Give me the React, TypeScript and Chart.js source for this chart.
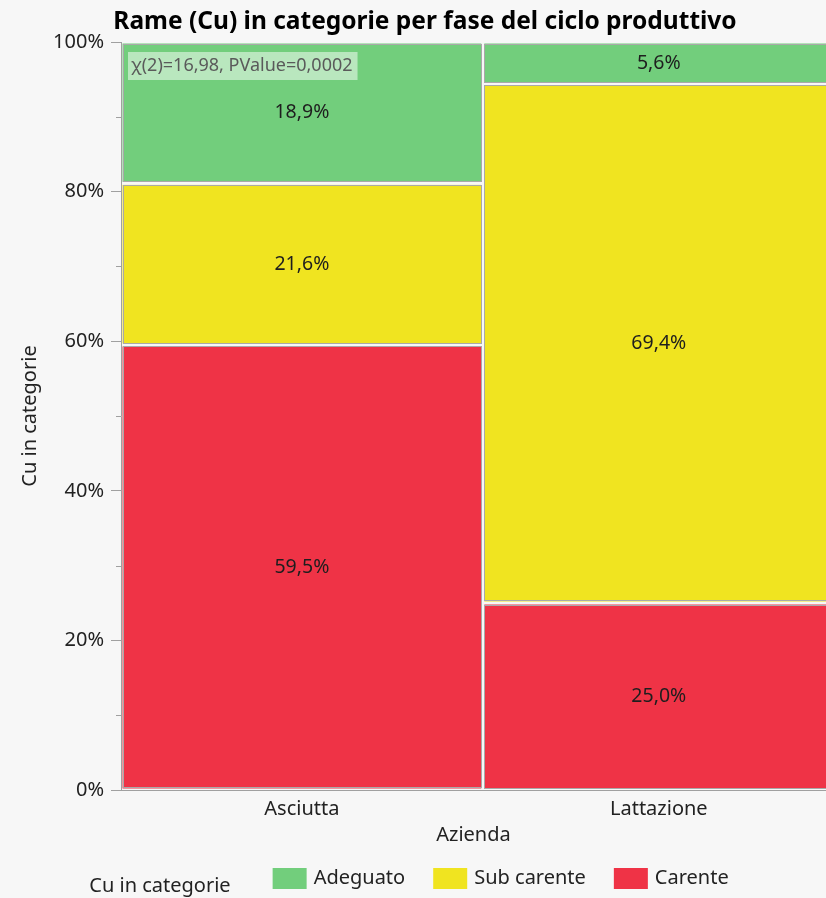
import React, { useEffect, useRef } from 'react';
import { Chart, registerables } from 'chart.js';

Chart.register(...registerables);

const TITLE = 'Rame (Cu) in categorie per fase del ciclo produttivo';
const X_TITLE = 'Azienda';
const Y_TITLE = 'Cu in categorie';
const GROUPS = ['Asciutta', 'Lattazione'];
const GROUP_N = [37, 36];
// levels from bottom to top
const LEVELS = ['Carente', 'Sub carente', 'Adeguato'];
const ASCIUTTA_PCT = [59.5, 21.6, 18.9];
const LATTAZIONE_PCT = [25.0, 69.4, 5.6];
const LEVEL_COLORS = ['#EF3346', '#F0E420', '#72CE7C'];
const LEGEND_ORDER = ['Adeguato', 'Sub carente', 'Carente'];
const Y_MINOR = [10, 30, 50, 70, 90];
const STAT_TEXT = 'χ(2)=16,98, PValue=0,0002';
const X_VISIBLE_MAX = 72.1;

const FONT = "'Noto Sans', 'Open Sans', sans-serif";
const BG = '#f7f7f7';

const mosaicPlugin = {
  id: 'mosaic',
  beforeDraw(chart: any) {
    const ctx = chart.ctx;
    ctx.save();
    ctx.fillStyle = BG;
    ctx.fillRect(0, 0, chart.width, chart.height);
    ctx.restore();
  },
  beforeDatasetsDraw(chart: any) {
    const ctx = chart.ctx;
    const xs = chart.scales.x;
    const ys = chart.scales.y;
    const pctSets = [ASCIUTTA_PCT, LATTAZIONE_PCT];
    ctx.save();
    let cum = 0;
    GROUPS.forEach((g, gi) => {
      const x0 = xs.getPixelForValue(cum);
      const x1 = xs.getPixelForValue(cum + GROUP_N[gi]);
      cum += GROUP_N[gi];
      let base = 0;
      pctSets[gi].forEach((p, li) => {
        const yb = ys.getPixelForValue(base);
        const yt = ys.getPixelForValue(base + p);
        base += p;
        const l = x0 + 1.5, r = x1 - 1.5, t = yt + 1.5, b = yb - 1.5;
        ctx.fillStyle = LEVEL_COLORS[li];
        ctx.fillRect(l, t, r - l, b - t);
        ctx.strokeStyle = '#a9a9a9';
        ctx.lineWidth = 1;
        ctx.strokeRect(Math.round(l) + 0.5, Math.round(t) + 0.5, Math.round(r - l) - 1, Math.round(b - t) - 1);
        ctx.fillStyle = '#1e1e1e';
        ctx.font = `19.5px ${FONT}`;
        ctx.textAlign = 'center';
        ctx.textBaseline = 'middle';
        ctx.fillText(p.toFixed(1).replace('.', ',') + '%', (l + r) / 2, (t + b) / 2);
      });
    });
    // stat annotation
    const ca = chart.chartArea;
    ctx.font = `18px ${FONT}`;
    const tw = ctx.measureText(STAT_TEXT).width;
    ctx.fillStyle = 'rgba(255,255,255,0.5)';
    ctx.fillRect(ca.left + 7, ca.top + 10, tw + 8, 28);
    ctx.fillStyle = '#5a5a5a';
    ctx.textAlign = 'left';
    ctx.textBaseline = 'middle';
    ctx.fillText(STAT_TEXT, ca.left + 10, ca.top + 24);
    // minor ticks
    ctx.strokeStyle = '#a0a0a0';
    ctx.lineWidth = 1;
    Y_MINOR.forEach((v) => {
      const y = Math.round(ys.getPixelForValue(v)) + 0.5;
      ctx.beginPath();
      ctx.moveTo(ca.left - 5, y);
      ctx.lineTo(ca.left, y);
      ctx.stroke();
    });
    ctx.restore();
  },
  afterDraw(chart: any) {
    const ctx = chart.ctx;
    const ca = chart.chartArea;
    ctx.save();
    // title
    ctx.font = `bold 24.5px ${FONT}`;
    ctx.fillStyle = '#000';
    ctx.textAlign = 'center';
    ctx.textBaseline = 'middle';
    ctx.fillText(TITLE, ca.left + 304, 22);
    // legend
    ctx.font = `20px ${FONT}`;
    const titleW = ctx.measureText(Y_TITLE).width;
    const boxW = 34, boxH = 21, boxGap = 7, itemGap = 28, titleGap = 42;
    let total = titleW + titleGap;
    LEGEND_ORDER.forEach((lab, i) => {
      total += boxW + boxGap + ctx.measureText(lab).width + (i < LEGEND_ORDER.length - 1 ? itemGap : 0);
    });
    let x = 409 - total / 2;
    ctx.fillStyle = '#222';
    ctx.textAlign = 'left';
    ctx.textBaseline = 'middle';
    ctx.fillText(Y_TITLE, x, 886);
    x += titleW + titleGap;
    LEGEND_ORDER.forEach((lab) => {
      const li = LEVELS.indexOf(lab);
      ctx.fillStyle = LEVEL_COLORS[li];
      ctx.fillRect(x, 868, boxW, boxH);
      x += boxW + boxGap;
      ctx.fillStyle = '#222';
      ctx.fillText(lab, x, 878);
      x += ctx.measureText(lab).width + itemGap;
    });
    ctx.restore();
  },
};

export default function App() {
  const ref = useRef<HTMLCanvasElement>(null);
  useEffect(() => {
    document.body.style.margin = '0';
    document.body.style.background = BG;
    const centers: number[] = [];
    let c = 0;
    GROUP_N.forEach((n) => {
      centers.push(c + n / 2);
      c += n;
    });
    const chart = new Chart(ref.current as HTMLCanvasElement, {
      type: 'scatter',
      data: { datasets: [{ data: [] }] },
      plugins: [mosaicPlugin],
      options: {
        animation: false,
        responsive: false,
        devicePixelRatio: 1,
        layout: { padding: { top: 42, right: 0, bottom: 48, left: 0 } },
        plugins: { legend: { display: false }, tooltip: { enabled: false }, title: { display: false } },
        scales: {
          x: {
            type: 'linear',
            min: 0,
            max: X_VISIBLE_MAX,
            afterBuildTicks: (scale: any) => {
              scale.ticks = centers.map((v) => ({ value: v }));
            },
            afterFit: (scale: any) => {
              scale.height = 60;
            },
            ticks: {
              autoSkip: false,
              maxRotation: 0,
              padding: 7,
              color: '#222',
              font: { family: FONT, size: 20 },
              callback: (_v: any, i: number) => GROUPS[i],
            },
            grid: { display: false, drawTicks: false },
            border: { display: true, color: '#a0a0a0' },
            title: {
              display: true,
              text: X_TITLE,
              color: '#222',
              font: { family: FONT, size: 20 },
              padding: { top: 0, bottom: 3 },
            },
          },
          y: {
            min: 0,
            max: 100,
            afterFit: (scale: any) => {
              scale.width = 121;
            },
            ticks: {
              stepSize: 20,
              padding: 7,
              color: '#222',
              font: { family: FONT, size: 20 },
              callback: (v: any) => v + '%',
            },
            grid: { drawOnChartArea: false, tickLength: 10, color: '#a0a0a0' },
            border: { display: true, color: '#a0a0a0' },
            title: {
              display: true,
              text: Y_TITLE,
              color: '#222',
              font: { family: FONT, size: 20 },
              padding: { top: 18, bottom: 0 },
            },
          },
        },
      },
    } as any);
    return () => chart.destroy();
  }, []);
  return <canvas ref={ref} width={826} height={898} style={{ display: 'block' }} />;
}
